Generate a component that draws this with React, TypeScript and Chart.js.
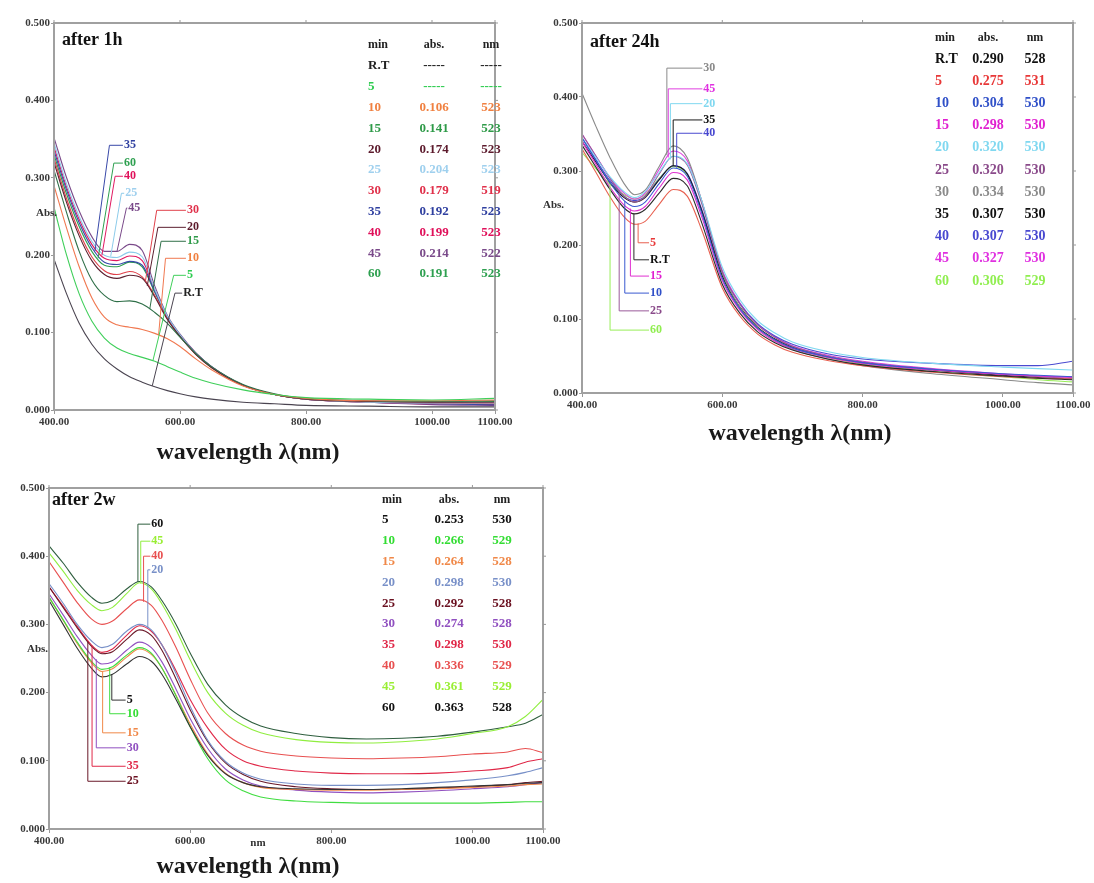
import React, { useEffect, useRef } from 'react';
import { Chart, registerables } from 'chart.js';
Chart.register(...registerables);

const SERIF = '"Liberation Serif", "DejaVu Serif", serif';

const X_TICKS = [400, 600, 800, 1000, 1100];
const Y_TICKS = [0, 0.1, 0.2, 0.3, 0.4, 0.5];

// ---------- after 1h ----------
const LAMBDA_1H = [400, 420, 440, 460, 480, 500, 520, 540, 560, 580, 600, 625, 650, 700, 750, 800, 900, 1000, 1100];
const H1_RT = [0.195, 0.150, 0.112, 0.085, 0.066, 0.053, 0.043, 0.036, 0.030, 0.025, 0.021, 0.017, 0.014, 0.010, 0.008, 0.006, 0.005, 0.004, 0.004];
const H1_5 = [0.262, 0.200, 0.150, 0.115, 0.093, 0.080, 0.073, 0.068, 0.063, 0.056, 0.049, 0.041, 0.035, 0.026, 0.020, 0.016, 0.014, 0.013, 0.015];
const H1_10 = [0.290, 0.235, 0.185, 0.145, 0.120, 0.110, 0.107, 0.104, 0.099, 0.092, 0.082, 0.066, 0.052, 0.031, 0.020, 0.015, 0.012, 0.012, 0.013];
const H1_15 = [0.310, 0.255, 0.205, 0.168, 0.148, 0.140, 0.141, 0.137, 0.126, 0.112, 0.094, 0.073, 0.056, 0.033, 0.021, 0.015, 0.012, 0.011, 0.012];
const H1_20 = [0.320, 0.268, 0.225, 0.193, 0.175, 0.170, 0.174, 0.170, 0.146, 0.117, 0.095, 0.072, 0.055, 0.032, 0.020, 0.014, 0.011, 0.010, 0.010];
const H1_25 = [0.345, 0.292, 0.250, 0.218, 0.200, 0.197, 0.204, 0.198, 0.156, 0.121, 0.097, 0.073, 0.056, 0.032, 0.020, 0.014, 0.010, 0.009, 0.009];
const H1_30 = [0.325, 0.273, 0.230, 0.198, 0.180, 0.175, 0.179, 0.172, 0.148, 0.118, 0.095, 0.072, 0.055, 0.032, 0.020, 0.014, 0.010, 0.009, 0.008];
const H1_35 = [0.335, 0.284, 0.242, 0.210, 0.191, 0.188, 0.192, 0.187, 0.153, 0.120, 0.096, 0.073, 0.056, 0.032, 0.020, 0.014, 0.010, 0.008, 0.007];
const H1_40 = [0.340, 0.288, 0.246, 0.214, 0.196, 0.193, 0.199, 0.193, 0.155, 0.120, 0.096, 0.073, 0.056, 0.032, 0.020, 0.014, 0.010, 0.008, 0.008];
const H1_45 = [0.352, 0.300, 0.257, 0.224, 0.205, 0.205, 0.214, 0.206, 0.160, 0.122, 0.098, 0.074, 0.056, 0.032, 0.020, 0.014, 0.010, 0.007, 0.006];
const H1_60 = [0.330, 0.279, 0.237, 0.205, 0.187, 0.185, 0.191, 0.185, 0.152, 0.119, 0.096, 0.073, 0.055, 0.032, 0.020, 0.014, 0.011, 0.010, 0.011];
const H1_MIN = ['R.T', '5', '10', '15', '20', '25', '30', '35', '40', '45', '60'];
const H1_ABS = ['-----', '-----', '0.106', '0.141', '0.174', '0.204', '0.179', '0.192', '0.199', '0.214', '0.191'];
const H1_NM = ['-----', '-----', '523', '523', '523', '523', '519', '523', '523', '522', '523'];

// ---------- after 24h ----------
const LAMBDA_24H = [400, 420, 440, 460, 475, 490, 510, 530, 550, 570, 600, 625, 650, 675, 700, 750, 800, 900, 1000, 1050, 1100];
const D24_RT = [0.335, 0.305, 0.275, 0.250, 0.242, 0.248, 0.270, 0.290, 0.280, 0.232, 0.147, 0.108, 0.083, 0.068, 0.058, 0.046, 0.038, 0.029, 0.023, 0.020, 0.018];
const D24_5 = [0.330, 0.298, 0.265, 0.238, 0.228, 0.232, 0.255, 0.275, 0.266, 0.222, 0.142, 0.104, 0.080, 0.065, 0.055, 0.044, 0.037, 0.028, 0.022, 0.020, 0.019];
const D24_10 = [0.345, 0.314, 0.284, 0.260, 0.252, 0.258, 0.283, 0.304, 0.293, 0.245, 0.155, 0.114, 0.088, 0.072, 0.061, 0.049, 0.041, 0.032, 0.026, 0.024, 0.022];
const D24_15 = [0.340, 0.309, 0.278, 0.254, 0.246, 0.252, 0.277, 0.298, 0.288, 0.240, 0.152, 0.112, 0.086, 0.070, 0.060, 0.048, 0.040, 0.031, 0.025, 0.023, 0.021];
const D24_20 = [0.345, 0.318, 0.292, 0.272, 0.264, 0.272, 0.298, 0.320, 0.310, 0.262, 0.170, 0.126, 0.098, 0.081, 0.069, 0.056, 0.048, 0.040, 0.035, 0.033, 0.031];
const D24_25 = [0.350, 0.320, 0.290, 0.266, 0.258, 0.266, 0.296, 0.320, 0.308, 0.258, 0.164, 0.120, 0.092, 0.075, 0.063, 0.050, 0.042, 0.032, 0.025, 0.022, 0.020];
const D24_30 = [0.405, 0.360, 0.318, 0.283, 0.268, 0.274, 0.306, 0.334, 0.318, 0.262, 0.162, 0.116, 0.088, 0.071, 0.059, 0.046, 0.037, 0.026, 0.018, 0.014, 0.011];
const D24_35 = [0.340, 0.312, 0.284, 0.264, 0.258, 0.264, 0.288, 0.307, 0.296, 0.248, 0.158, 0.116, 0.089, 0.073, 0.062, 0.049, 0.041, 0.031, 0.024, 0.021, 0.019];
const D24_40 = [0.345, 0.315, 0.287, 0.266, 0.260, 0.266, 0.289, 0.307, 0.297, 0.250, 0.162, 0.121, 0.094, 0.077, 0.066, 0.053, 0.046, 0.040, 0.037, 0.037, 0.043];
const D24_45 = [0.350, 0.320, 0.291, 0.270, 0.262, 0.270, 0.302, 0.327, 0.314, 0.262, 0.166, 0.122, 0.093, 0.076, 0.064, 0.051, 0.043, 0.033, 0.026, 0.023, 0.022];
const D24_60 = [0.325, 0.303, 0.282, 0.268, 0.262, 0.268, 0.290, 0.306, 0.295, 0.248, 0.158, 0.116, 0.089, 0.072, 0.061, 0.048, 0.039, 0.029, 0.022, 0.018, 0.015];
const D24_MIN = ['R.T', '5', '10', '15', '20', '25', '30', '35', '40', '45', '60'];
const D24_ABS = ['0.290', '0.275', '0.304', '0.298', '0.320', '0.320', '0.334', '0.307', '0.307', '0.327', '0.306'];
const D24_NM = ['528', '531', '530', '530', '530', '530', '530', '530', '530', '530', '529'];

// ---------- after 2w ----------
const LAMBDA_2W = [400, 420, 440, 460, 475, 490, 510, 528, 545, 560, 580, 600, 625, 650, 675, 700, 750, 800, 850, 900, 950, 1000, 1050, 1075, 1100];
const W2_5 = [0.335, 0.300, 0.265, 0.236, 0.223, 0.227, 0.242, 0.253, 0.246, 0.227, 0.190, 0.150, 0.108, 0.081, 0.068, 0.062, 0.059, 0.058, 0.058, 0.059, 0.061, 0.063, 0.065, 0.067, 0.068];
const W2_10 = [0.340, 0.307, 0.274, 0.246, 0.234, 0.238, 0.255, 0.266, 0.258, 0.236, 0.195, 0.150, 0.103, 0.072, 0.056, 0.047, 0.041, 0.039, 0.038, 0.038, 0.038, 0.038, 0.039, 0.040, 0.040];
const W2_15 = [0.340, 0.306, 0.272, 0.244, 0.231, 0.235, 0.252, 0.264, 0.256, 0.236, 0.196, 0.154, 0.110, 0.082, 0.068, 0.061, 0.058, 0.057, 0.057, 0.058, 0.059, 0.061, 0.063, 0.065, 0.066];
const W2_20 = [0.360, 0.331, 0.300, 0.276, 0.266, 0.271, 0.290, 0.300, 0.292, 0.270, 0.228, 0.180, 0.130, 0.099, 0.082, 0.073, 0.066, 0.064, 0.064, 0.065, 0.068, 0.072, 0.078, 0.083, 0.090];
const W2_25 = [0.355, 0.325, 0.295, 0.268, 0.257, 0.260, 0.278, 0.292, 0.284, 0.262, 0.220, 0.175, 0.128, 0.097, 0.080, 0.070, 0.062, 0.059, 0.058, 0.058, 0.060, 0.062, 0.065, 0.068, 0.070];
const W2_30 = [0.345, 0.314, 0.282, 0.255, 0.242, 0.245, 0.262, 0.274, 0.266, 0.245, 0.205, 0.162, 0.118, 0.088, 0.072, 0.063, 0.057, 0.054, 0.053, 0.054, 0.056, 0.059, 0.062, 0.065, 0.068];
const W2_35 = [0.355, 0.327, 0.297, 0.270, 0.259, 0.264, 0.284, 0.298, 0.290, 0.270, 0.232, 0.190, 0.148, 0.117, 0.100, 0.092, 0.085, 0.082, 0.081, 0.081, 0.082, 0.085, 0.090, 0.098, 0.103];
const W2_40 = [0.392, 0.362, 0.332, 0.308, 0.300, 0.305, 0.323, 0.336, 0.328, 0.306, 0.266, 0.220, 0.170, 0.140, 0.123, 0.114, 0.107, 0.104, 0.103, 0.104, 0.106, 0.110, 0.113, 0.118, 0.112];
const W2_45 = [0.405, 0.378, 0.350, 0.329, 0.320, 0.325, 0.345, 0.361, 0.352, 0.330, 0.292, 0.248, 0.200, 0.170, 0.152, 0.141, 0.131, 0.127, 0.126, 0.128, 0.132, 0.140, 0.150, 0.165, 0.190];
const W2_60 = [0.415, 0.390, 0.362, 0.340, 0.331, 0.335, 0.352, 0.363, 0.355, 0.335, 0.300, 0.258, 0.212, 0.182, 0.163, 0.151, 0.140, 0.134, 0.132, 0.133, 0.136, 0.142, 0.150, 0.155, 0.168];
const W2_MIN = ['5', '10', '15', '20', '25', '30', '35', '40', '45', '60'];
const W2_ABS = ['0.253', '0.266', '0.264', '0.298', '0.292', '0.274', '0.298', '0.336', '0.361', '0.363'];
const W2_NM = ['530', '529', '528', '530', '528', '528', '530', '529', '529', '528'];

type Series = { name: string; data: number[]; color: string; text: string };
type Callout = { name: string; anchor: number; elbow: number; textAt: number; labelAbs: number };

const P1_SERIES: Series[] = [
  { name: 'R.T', data: H1_RT, color: '#4a4450', text: '#222' },
  { name: '5', data: H1_5, color: '#3fcf5a', text: '#2ecc50' },
  { name: '10', data: H1_10, color: '#f07850', text: '#f08040' },
  { name: '15', data: H1_15, color: '#2f6f48', text: '#2e9a48' },
  { name: '20', data: H1_20, color: '#5c2030', text: '#5c1a2c' },
  { name: '25', data: H1_25, color: '#8ccbea', text: '#9fd0ee' },
  { name: '30', data: H1_30, color: '#e0404a', text: '#e0304a' },
  { name: '35', data: H1_35, color: '#3848a8', text: '#3040a0' },
  { name: '40', data: H1_40, color: '#e01860', text: '#e0105a' },
  { name: '45', data: H1_45, color: '#7a4a8a', text: '#7a4a8a' },
  { name: '60', data: H1_60, color: '#2ea050', text: '#2ea050' },
];
const P1_CALLOUTS: Callout[] = [
  { name: '35', anchor: 465, elbow: 488, textAt: 511, labelAbs: 0.342 },
  { name: '60', anchor: 470, elbow: 495, textAt: 511, labelAbs: 0.319 },
  { name: '40', anchor: 476, elbow: 497, textAt: 511, labelAbs: 0.302 },
  { name: '25', anchor: 490, elbow: 507, textAt: 513, labelAbs: 0.280 },
  { name: '45', anchor: 500, elbow: 515, textAt: 518, labelAbs: 0.261 },
  { name: '30', anchor: 545, elbow: 563, textAt: 611, labelAbs: 0.258 },
  { name: '20', anchor: 548, elbow: 565, textAt: 611, labelAbs: 0.236 },
  { name: '15', anchor: 552, elbow: 570, textAt: 611, labelAbs: 0.218 },
  { name: '10', anchor: 566, elbow: 577, textAt: 611, labelAbs: 0.196 },
  { name: '5', anchor: 557, elbow: 590, textAt: 611, labelAbs: 0.174 },
  { name: 'R.T', anchor: 556, elbow: 592, textAt: 605, labelAbs: 0.151 },
];

const P2_SERIES: Series[] = [
  { name: 'R.T', data: D24_RT, color: '#2a2a2a', text: '#111' },
  { name: '5', data: D24_5, color: '#e86050', text: '#e83838' },
  { name: '10', data: D24_10, color: '#3a5ad0', text: '#3050c8' },
  { name: '15', data: D24_15, color: '#e030d0', text: '#e020d0' },
  { name: '20', data: D24_20, color: '#80d8f0', text: '#80d8f0' },
  { name: '25', data: D24_25, color: '#9a5a9a', text: '#8a4a8a' },
  { name: '30', data: D24_30, color: '#8a8a8a', text: '#8a8a8a' },
  { name: '35', data: D24_35, color: '#1a1a1a', text: '#111' },
  { name: '40', data: D24_40, color: '#4a4ad0', text: '#4848d0' },
  { name: '45', data: D24_45, color: '#e040e0', text: '#e030e0' },
  { name: '60', data: D24_60, color: '#98ee58', text: '#90ee50' },
];
const P2_CALLOUTS: Callout[] = [
  { name: '30', anchor: 521, elbow: 521, textAt: 573, labelAbs: 0.439 },
  { name: '45', anchor: 523, elbow: 523, textAt: 573, labelAbs: 0.411 },
  { name: '20', anchor: 526, elbow: 526, textAt: 573, labelAbs: 0.391 },
  { name: '35', anchor: 530, elbow: 530, textAt: 573, labelAbs: 0.369 },
  { name: '40', anchor: 535, elbow: 535, textAt: 573, labelAbs: 0.351 },
  { name: '5', anchor: 480, elbow: 480, textAt: 497, labelAbs: 0.203 },
  { name: 'R.T', anchor: 474, elbow: 474, textAt: 497, labelAbs: 0.180 },
  { name: '15', anchor: 469, elbow: 469, textAt: 497, labelAbs: 0.158 },
  { name: '10', anchor: 461, elbow: 461, textAt: 497, labelAbs: 0.135 },
  { name: '25', anchor: 453, elbow: 453, textAt: 497, labelAbs: 0.111 },
  { name: '60', anchor: 440, elbow: 440, textAt: 497, labelAbs: 0.085 },
];

const P3_SERIES: Series[] = [
  { name: '5', data: W2_5, color: '#333333', text: '#111' },
  { name: '10', data: W2_10, color: '#40dd40', text: '#33dd33' },
  { name: '15', data: W2_15, color: '#f08848', text: '#f08848' },
  { name: '20', data: W2_20, color: '#7890c8', text: '#7890c8' },
  { name: '25', data: W2_25, color: '#6a1828', text: '#6a1020' },
  { name: '30', data: W2_30, color: '#9050c0', text: '#9050c0' },
  { name: '35', data: W2_35, color: '#e02848', text: '#e02848' },
  { name: '40', data: W2_40, color: '#e85050', text: '#e85050' },
  { name: '45', data: W2_45, color: '#90ee40', text: '#99ee33' },
  { name: '60', data: W2_60, color: '#2e5e3e', text: '#111' },
];
const P3_CALLOUTS: Callout[] = [
  { name: '60', anchor: 526, elbow: 526, textAt: 545, labelAbs: 0.447 },
  { name: '45', anchor: 530, elbow: 530, textAt: 545, labelAbs: 0.422 },
  { name: '40', anchor: 534, elbow: 534, textAt: 545, labelAbs: 0.400 },
  { name: '20', anchor: 540, elbow: 540, textAt: 545, labelAbs: 0.380 },
  { name: '5', anchor: 489, elbow: 489, textAt: 510, labelAbs: 0.189 },
  { name: '10', anchor: 486, elbow: 486, textAt: 510, labelAbs: 0.169 },
  { name: '15', anchor: 476, elbow: 476, textAt: 510, labelAbs: 0.141 },
  { name: '30', anchor: 467, elbow: 467, textAt: 510, labelAbs: 0.119 },
  { name: '35', anchor: 461, elbow: 461, textAt: 510, labelAbs: 0.092 },
  { name: '25', anchor: 455, elbow: 455, textAt: 510, labelAbs: 0.070 },
];

type Spec = {
  left: number; top: number; width: number; height: number;
  padTop: number; padRight: number; yAxisW: number; xAxisH: number;
  lambda: number[]; series: Series[]; callouts: Callout[];
  mins: string[]; abs: string[]; nms: string[];
  table: { minX: number; absX: number; nmX: number; headerY: number; y0: number; dy: number; size: number };
  title: { text: string; x: number; y: number };
  absLabel: { x: number; y: number };
  xTitle: { x: number; y: number };
  nmLabel?: { x: number; y: number };
};

const SPECS: Spec[] = [
  {
    left: 0, top: 0, width: 540, height: 470,
    padTop: 23, padRight: 45, yAxisW: 54, xAxisH: 60,
    lambda: LAMBDA_1H, series: P1_SERIES, callouts: P1_CALLOUTS,
    mins: H1_MIN, abs: H1_ABS, nms: H1_NM,
    table: { minX: 368, absX: 434, nmX: 491, headerY: 45, y0: 66, dy: 20.8, size: 13 },
    title: { text: 'after 1h', x: 62, y: 40 },
    absLabel: { x: 36, y: 213 },
    xTitle: { x: 248, y: 453 },
  },
  {
    left: 530, top: 0, width: 564, height: 450,
    padTop: 23, padRight: 21, yAxisW: 52, xAxisH: 57,
    lambda: LAMBDA_24H, series: P2_SERIES, callouts: P2_CALLOUTS,
    mins: D24_MIN, abs: D24_ABS, nms: D24_NM,
    table: { minX: 405, absX: 458, nmX: 505, headerY: 38, y0: 59, dy: 22.2, size: 14 },
    title: { text: 'after 24h', x: 60, y: 42 },
    absLabel: { x: 13, y: 205 },
    xTitle: { x: 270, y: 434 },
  },
  {
    left: 0, top: 475, width: 575, height: 408,
    padTop: 13, padRight: 32, yAxisW: 49, xAxisH: 54,
    lambda: LAMBDA_2W, series: P3_SERIES, callouts: P3_CALLOUTS,
    mins: W2_MIN, abs: W2_ABS, nms: W2_NM,
    table: { minX: 382, absX: 449, nmX: 502, headerY: 25, y0: 45, dy: 20.8, size: 13 },
    title: { text: 'after 2w', x: 52, y: 25 },
    absLabel: { x: 27, y: 174 },
    xTitle: { x: 248, y: 392 },
    nmLabel: { x: 258, y: 368 },
  },
];

function interp(xs: number[], ys: number[], x: number) {
  for (let i = 0; i < xs.length - 1; i++) {
    if (x >= xs[i] && x <= xs[i + 1]) {
      const t = (x - xs[i]) / (xs[i + 1] - xs[i]);
      return ys[i] + t * (ys[i + 1] - ys[i]);
    }
  }
  return ys[ys.length - 1];
}

function decorPlugin(spec: Spec) {
  return {
    id: 'decor',
    afterDraw(chart: any) {
      const ctx = chart.ctx as CanvasRenderingContext2D;
      const a = chart.chartArea;
      const xs = chart.scales.x;
      const ys = chart.scales.y;
      ctx.save();
      ctx.strokeStyle = '#a0a0a0';
      ctx.lineWidth = 2;
      ctx.strokeRect(a.left, a.top, a.right - a.left, a.bottom - a.top);
      ctx.lineWidth = 1;
      ctx.strokeStyle = '#999';
      X_TICKS.forEach((v) => {
        const px = xs.getPixelForValue(v);
        ctx.beginPath(); ctx.moveTo(px, a.top); ctx.lineTo(px, a.top - 3); ctx.stroke();
      });
      Y_TICKS.forEach((v) => {
        const py = ys.getPixelForValue(v);
        ctx.beginPath(); ctx.moveTo(a.right, py); ctx.lineTo(a.right + 3, py); ctx.stroke();
      });
      ctx.fillStyle = '#111';
      ctx.textBaseline = 'middle';
      ctx.textAlign = 'left';
      ctx.font = `bold 18px ${SERIF}`;
      ctx.fillText(spec.title.text, spec.title.x, spec.title.y);
      ctx.font = `bold 11px ${SERIF}`;
      ctx.fillStyle = '#333';
      ctx.fillText('Abs.', spec.absLabel.x, spec.absLabel.y);
      if (spec.nmLabel) {
        ctx.textAlign = 'center';
        ctx.fillText('nm', spec.nmLabel.x, spec.nmLabel.y);
      }
      ctx.textAlign = 'center';
      ctx.fillStyle = '#1a1a1a';
      ctx.font = `bold 24px ${SERIF}`;
      ctx.fillText('wavelength λ(nm)', spec.xTitle.x, spec.xTitle.y);
      const t = spec.table;
      ctx.font = `bold 12px ${SERIF}`;
      ctx.fillStyle = '#222';
      ctx.textAlign = 'left';
      ctx.fillText('min', t.minX, t.headerY);
      ctx.textAlign = 'center';
      ctx.fillText('abs.', t.absX, t.headerY);
      ctx.fillText('nm', t.nmX, t.headerY);
      ctx.font = `bold ${t.size}px ${SERIF}`;
      spec.mins.forEach((m, i) => {
        const s = spec.series.find((q) => q.name === m);
        ctx.fillStyle = s ? s.text : '#222';
        const y = t.y0 + i * t.dy;
        ctx.textAlign = 'left';
        ctx.fillText(m, t.minX, y);
        ctx.textAlign = 'center';
        ctx.fillText(spec.abs[i], t.absX, y);
        ctx.fillText(spec.nms[i], t.nmX, y);
      });
      ctx.font = `bold 12px ${SERIF}`;
      ctx.textAlign = 'left';
      spec.callouts.forEach((c) => {
        const s = spec.series.find((q) => q.name === c.name);
        if (!s) return;
        const v = interp(spec.lambda, s.data, c.anchor);
        const x0 = xs.getPixelForValue(c.anchor);
        const y0 = ys.getPixelForValue(v);
        const x1 = xs.getPixelForValue(c.elbow);
        const y1 = ys.getPixelForValue(c.labelAbs);
        const x2 = xs.getPixelForValue(c.textAt);
        ctx.strokeStyle = s.color;
        ctx.lineWidth = 1;
        ctx.beginPath();
        ctx.moveTo(x0, y0);
        ctx.lineTo(x1, y1);
        ctx.lineTo(x2 - 1, y1);
        ctx.stroke();
        ctx.fillStyle = s.text;
        ctx.fillText(c.name, x2, y1);
      });
      ctx.restore();
    },
  };
}

function Panel({ spec }: { spec: Spec }) {
  const ref = useRef<HTMLCanvasElement | null>(null);
  useEffect(() => {
    if (!ref.current) return;
    const tickFont = { family: SERIF, weight: 'bold' as const, size: 11 };
    const chart = new Chart(ref.current, {
      type: 'line',
      data: {
        datasets: spec.series.map((s) => ({
          label: s.name,
          data: spec.lambda.map((x, i) => ({ x, y: s.data[i] })),
          borderColor: s.color,
          backgroundColor: s.color,
          borderWidth: 1.1,
          pointRadius: 0,
          fill: false,
          cubicInterpolationMode: 'monotone' as const,
        })),
      },
      options: {
        animation: false,
        responsive: false,
        maintainAspectRatio: false,
        layout: { padding: { left: 0, top: spec.padTop, right: spec.padRight, bottom: 0 } },
        plugins: { legend: { display: false }, tooltip: { enabled: false } },
        scales: {
          x: {
            type: 'linear',
            min: 400,
            max: 1100,
            afterBuildTicks: (s: any) => { s.ticks = X_TICKS.map((v) => ({ value: v })); },
            afterFit: (s: any) => { s.height = spec.xAxisH; s.paddingLeft = 0; s.paddingRight = 0; s.paddingTop = 0; s.paddingBottom = 0; },
            ticks: { callback: (v: any) => Number(v).toFixed(2), font: tickFont, color: '#3a3a3a', maxRotation: 0, autoSkip: false, padding: 2 },
            grid: { display: true, drawOnChartArea: false, drawTicks: true, tickLength: 4, color: '#999' },
            border: { display: false },
          },
          y: {
            type: 'linear',
            min: 0,
            max: 0.5,
            afterBuildTicks: (s: any) => { s.ticks = Y_TICKS.map((v) => ({ value: v })); },
            afterFit: (s: any) => { s.width = spec.yAxisW; s.paddingLeft = 0; s.paddingRight = 0; s.paddingTop = 0; s.paddingBottom = 0; },
            ticks: { callback: (v: any) => Number(v).toFixed(3), font: tickFont, color: '#3a3a3a', padding: 1 },
            grid: { display: true, drawOnChartArea: false, drawTicks: true, tickLength: 3, color: '#999' },
            border: { display: false },
          },
        },
      },
      plugins: [decorPlugin(spec)],
    } as any);
    return () => chart.destroy();
  }, [spec]);
  return (
    <canvas
      ref={ref}
      width={spec.width}
      height={spec.height}
      style={{ position: 'absolute', left: spec.left, top: spec.top, width: spec.width, height: spec.height }}
    />
  );
}

export default function App() {
  return (
    <div style={{ position: 'absolute', left: 0, top: 0, width: 1094, height: 883, background: '#fff' }}>
      {SPECS.map((s, i) => (
        <Panel key={i} spec={s} />
      ))}
    </div>
  );
}
